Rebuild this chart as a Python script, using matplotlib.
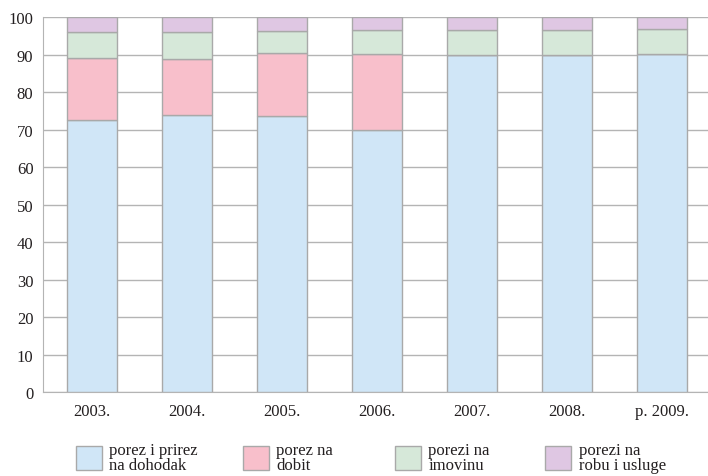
import matplotlib
matplotlib.use("Agg")
from matplotlib import pyplot as pl
import numpy as np

years = ['2003.', '2004.', '2005.', '2006.', '2007.', '2008.', 'p. 2009.']
dohodak = [72.5, 74.0, 73.5, 70.0, 89.8, 89.8, 90.2]
dobit = [16.5, 14.7, 16.9, 20.1, 0.0, 0.0, 0.0]
imovina = [7.0, 7.3, 5.8, 6.4, 6.8, 6.7, 6.5]
robu = [4.0, 4.0, 3.8, 3.5, 3.4, 3.5, 3.3]

labels = ['porez i prirez\nna dohodak', 'porez na\ndobit',
          'porezi na\nimovinu', 'porezi na\nrobu i usluge']
colors = ['#d0e6f7', '#f8bfcb', '#d6e8d9', '#dfc7e3']

pl.rcParams['font.family'] = ['Liberation Serif', 'DejaVu Serif']

fig = pl.figure(figsize=(7.08, 4.77), dpi=100)
ax = fig.add_axes([0.061, 0.176, 0.939, 0.786])

x = np.arange(len(years))
bottom = np.zeros(len(years))
handles = []
for vals, c, lab in zip([dohodak, dobit, imovina, robu], colors, labels):
    vals = np.array(vals)
    b = ax.bar(x, vals, 0.526, bottom=bottom, color=c, edgecolor='#a9a9a9',
               linewidth=1.0, label=lab, zorder=3)
    handles.append(b)
    bottom = bottom + vals

ax.set_ylim(0, 100)
ax.set_xlim(-0.516, 6.48)
ax.set_yticks(range(0, 101, 10))
ax.set_xticks(x)
ax.set_xticklabels(years)
ax.yaxis.grid(True, color='#b4b4b4', linewidth=1.0, zorder=0)
ax.tick_params(length=0, labelsize=12, colors='#231f20')
ax.tick_params(axis='x', pad=8)
ax.tick_params(axis='y', pad=7)
for s in ['top', 'right']:
    ax.spines[s].set_visible(False)
for s in ['left', 'bottom']:
    ax.spines[s].set_color('#b4b4b4')

# legend: one entry per column, placed under the chart
leg_x = [0.1073, 0.3432, 0.5579, 0.7698]
for h, lab, lx in zip(handles, labels, leg_x):
    leg = fig.legend([h], [lab], loc='upper left', bbox_to_anchor=(lx, 0.072),
                     frameon=False, fontsize=12, handlelength=1.56,
                     handleheight=1.8, handletextpad=0.45, borderpad=0,
                     borderaxespad=0)
    for t in leg.get_texts():
        t.set_linespacing(0.95)
        t.set_color('#231f20')

fig.savefig("out.png", dpi=100)
